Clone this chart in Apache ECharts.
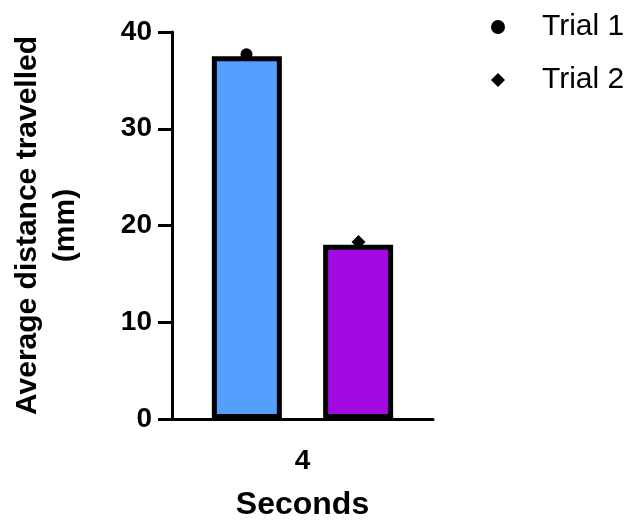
<!DOCTYPE html>
<html>
    <head>
        <meta charset="utf-8">
        <script src="https://cdn.jsdelivr.net/npm/echarts@6/dist/echarts.min.js"></script>
        <style>
            html, body { margin: 0; padding: 0; background: #fff; }
            #main { width: 632px; height: 520px; }
        </style>
    </head>
    <body>
        <div id="main"></div>
        <script>
            // data
            var categories = ['4'];
            var barNames = ['Mean 1', 'Mean 2'];
            var barMeans = [37.5, 18.0];
            var trialNames = ['Trial 1', 'Trial 2'];
            var trial1 = [37.7];
            var trial2 = [18.3];
            var yTicks = [0, 10, 20, 30, 40];

            var barColors = ['#559fff', '#a30ae3'];
            var font = 'Liberation Sans, Arial, sans-serif';

            var chart = echarts.init(document.getElementById('main'));

            var option = {
                animation: false,
                grid: { left: 172, right: 199, top: 32, bottom: 101, outerBoundsMode: 'none', containLabel: false },
                legend: {
                    data: trialNames,
                    orient: 'vertical',
                    left: 486,
                    top: 7,
                    itemGap: 23,
                    itemWidth: 14,
                    itemHeight: 14,
                    textStyle: { fontFamily: font, fontSize: 30, color: '#000', padding: [0, 0, 0, 32] }
                },
                xAxis: {
                    type: 'category',
                    data: categories,
                    name: 'Seconds',
                    nameLocation: 'middle',
                    nameGap: 70,
                    nameTextStyle: { fontFamily: font, fontSize: 32, fontWeight: 'bold', color: '#000' },
                    axisLine: { lineStyle: { color: '#000', width: 3 } },
                    axisTick: { alignWithLabel: true, length: 14, lineStyle: { color: '#000', width: 3 } },
                    axisLabel: { fontFamily: font, fontSize: 28, fontWeight: 'bold', color: '#000', margin: 28 }
                },
                yAxis: {
                    type: 'value',
                    min: yTicks[0],
                    max: yTicks[yTicks.length - 1],
                    interval: yTicks[1] - yTicks[0],
                    name: 'Average distance travelled\n(mm)',
                    nameLocation: 'middle',
                    nameGap: 87,
                    nameTextStyle: { fontFamily: font, fontSize: 30, fontWeight: 'bold', color: '#000', lineHeight: 38 },
                    splitLine: { show: false },
                    axisLine: { show: true, lineStyle: { color: '#000', width: 3 } },
                    axisTick: { show: true, length: 14, lineStyle: { color: '#000', width: 3 } },
                    axisLabel: { fontFamily: font, fontSize: 28, fontWeight: 'bold', color: '#000', margin: 20 }
                },
                series: [
                    {
                        name: barNames[0],
                        type: 'bar',
                        data: [barMeans[0]],
                        barWidth: 70,
                        barGap: '59%',
                        itemStyle: { color: barColors[0], borderColor: '#000', borderWidth: 5 }
                    },
                    {
                        name: barNames[1],
                        type: 'bar',
                        data: [barMeans[1]],
                        barWidth: 70,
                        barGap: '59%',
                        itemStyle: { color: barColors[1], borderColor: '#000', borderWidth: 5 }
                    },
                    {
                        name: trialNames[0],
                        type: 'scatter',
                        data: trial1,
                        symbol: 'circle',
                        symbolSize: 12,
                        symbolOffset: [-56, 0],
                        itemStyle: { color: '#000', opacity: 1 },
                        z: 5
                    },
                    {
                        name: trialNames[1],
                        type: 'scatter',
                        data: trial2,
                        symbol: 'diamond',
                        symbolSize: 14,
                        symbolOffset: [56, 0],
                        itemStyle: { color: '#000', opacity: 1 },
                        z: 5
                    }
                ]
            };

            chart.setOption(option);
        </script>
    </body>
</html>
